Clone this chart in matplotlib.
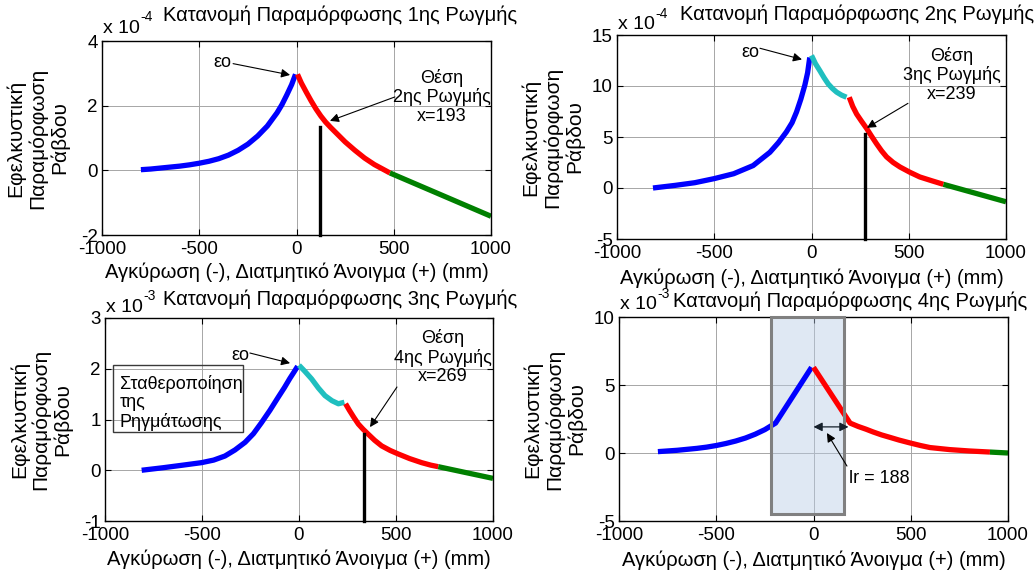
import matplotlib.pyplot as plt
from matplotlib.patches import Rectangle

plt.rcParams['font.family'] = ['Liberation Sans', 'DejaVu Sans']
plt.rcParams['font.size'] = 14
plt.rcParams['axes.unicode_minus'] = False

# values in units of the axis multiplier (x10^-4, x10^-4, x10^-3, x10^-3)
# panel 1
p1_blue_x = [-800, -750, -700, -650, -600, -550, -500, -450, -400, -350, -300,
             -250, -200, -150, -100, -75, -50, -25, -5]
p1_blue_y = [0.02, 0.04, 0.07, 0.1, 0.13, 0.17, 0.22, 0.28, 0.36, 0.47, 0.62,
             0.81, 1.06, 1.37, 1.78, 2.03, 2.33, 2.65, 2.97]
p1_red_x = [5, 25, 50, 75, 100, 125, 150, 175, 200, 250, 300, 350, 400, 440, 480]
p1_red_y = [2.97, 2.7, 2.42, 2.15, 1.9, 1.68, 1.49, 1.33, 1.18, 0.88, 0.62, 0.38,
            0.18, 0.05, -0.08]
p1_green_x = [480, 1000]
p1_green_y = [-0.08, -1.42]
p1_crack_x = 121
p1_crack_top = 1.35

# panel 2
p2_blue_x = [-815, -700, -600, -500, -400, -300, -214, -170, -129, -100, -77,
             -55, -34, -20, -9]
p2_blue_y = [0.0, 0.26, 0.52, 0.92, 1.4, 2.2, 3.5, 4.45, 5.5, 6.4, 7.45,
             8.7, 10.1, 11.3, 12.8]
p2_cyan_x = [0, 20, 43, 65, 86, 108, 129, 155, 180]
p2_cyan_y = [13.0, 12.2, 11.5, 10.8, 10.2, 9.75, 9.4, 9.1, 8.9]
p2_red_x = [194, 212, 232, 257, 283, 308, 334, 360, 386, 420, 455, 505, 557,
            620, 678]
p2_red_y = [8.9, 8.0, 7.25, 6.55, 5.85, 5.1, 4.35, 3.65, 3.05, 2.5, 2.06, 1.55, 1.08,
            0.7, 0.36]
p2_green_x = [678, 1000]
p2_green_y = [0.36, -1.35]
p2_crack_x = 274
p2_crack_top = 5.3

# panel 3
p3_blue_x = [-811, -700, -600, -502, -440, -382, -330, -278, -235, -193, -150,
             -107, -75, -47, -25, -7]
p3_blue_y = [0.0, 0.05, 0.1, 0.15, 0.2, 0.28, 0.4, 0.55, 0.72, 0.94, 1.18,
             1.44, 1.63, 1.81, 1.94, 2.05]
p3_cyan_x = [0, 30, 65, 100, 134, 170, 203, 234]
p3_cyan_y = [2.07, 1.95, 1.8, 1.62, 1.47, 1.37, 1.31, 1.34]
p3_red_x = [240, 260, 283, 306, 330, 357, 390, 426, 470, 512, 570, 632, 680, 718]
p3_red_y = [1.31, 1.18, 1.04, 0.91, 0.81, 0.71, 0.59, 0.48, 0.39, 0.32, 0.23,
            0.15, 0.1, 0.07]
p3_green_x = [718, 1000]
p3_green_y = [0.07, -0.16]
p3_crack_x = 337
p3_crack_top = 0.71

# panel 4
p4_blue_x = [-800, -750, -700, -650, -600, -550, -500, -450, -400, -350, -300,
             -250, -195, -10]
p4_blue_y = [0.1, 0.15, 0.2, 0.27, 0.34, 0.43, 0.55, 0.7, 0.88, 1.1, 1.38,
             1.72, 2.2, 6.3]
p4_red_x = [0, 188, 230, 270, 306, 350, 393, 440, 496, 550, 599, 700, 800, 907]
p4_red_y = [6.3, 2.2, 1.95, 1.75, 1.55, 1.33, 1.15, 0.95, 0.74, 0.55, 0.4, 0.25,
            0.15, 0.07]
p4_green_x = [907, 1000]
p4_green_y = [0.07, 0.0]
p4_zone = (-218, 157)
lr_value = 188

titles = ['Κατανομή Παραμόρφωσης 1ης Ρωγμής', 'Κατανομή Παραμόρφωσης 2ης Ρωγμής',
          'Κατανομή Παραμόρφωσης 3ης Ρωγμής', 'Κατανομή Παραμόρφωσης 4ης Ρωγμής']
exponents = ['-4', '-4', '-3', '-3']
ylims = [(-2, 4), (-5, 15), (-1, 3), (-5, 10)]
yticks = [[-2, 0, 2, 4], [-5, 0, 5, 10, 15], [-1, 0, 1, 2, 3], [-5, 0, 5, 10]]
xlabel = 'Αγκύρωση (-), Διατμητικό Άνοιγμα (+) (mm)'
ylabel = 'Εφελκυστική\nΠαραμόρφωση\nΡάβδου'

BLUE, RED, CYAN, GREEN = '#0000ff', '#ff0000', '#1fbfbf', '#008000'
LW = 3.8
ANN = 13

fig = plt.figure(figsize=(10.35, 5.71), dpi=100)
positions = [
    [102 / 1035, 336 / 571, 389 / 1035, 194 / 571],
    [617 / 1035, 332 / 571, 389 / 1035, 204 / 571],
    [105 / 1035, 50 / 571, 388 / 1035, 203 / 571],
    [619 / 1035, 50 / 571, 389 / 1035, 204 / 571],
]
axes = [fig.add_axes(p) for p in positions]
title_x = [0.612, 0.617, 0.606, 0.594]
title_y = [1.134, 1.10, 1.09, 1.075]
off_y = [1.067, 1.05, 1.054, 1.06]

for i, ax in enumerate(axes):
    ax.set_xlim(-1000, 1000)
    ax.set_ylim(*ylims[i])
    ax.set_xticks([-1000, -500, 0, 500, 1000])
    ax.set_yticks(yticks[i])
    ax.tick_params(direction='in', top=True, right=True, length=4, width=0.8,
                   labelsize=13.5, pad=3)
    ax.tick_params(axis='x', pad=4)
    ax.grid(True, color='#a6a6a6', lw=0.7)
    ax.set_axisbelow(True)
    for s in ax.spines.values():
        s.set_linewidth(1.0)
    ax.set_xlabel(xlabel, fontsize=14.5)
    ax.xaxis.set_label_coords(0.5, -0.19)
    ax.xaxis.label.set_verticalalignment('center')
    ax.set_ylabel(ylabel, fontsize=15, linespacing=1.15)
    ax.yaxis.set_label_coords(-0.165, 0.5)
    ax.yaxis.label.set_verticalalignment('center')
    ax.text(title_x[i], title_y[i], titles[i], transform=ax.transAxes, ha='center',
            va='center', fontsize=14.5)
    t = ax.text(0.003, off_y[i], 'x 10', transform=ax.transAxes,
                ha='left', va='center', fontsize=14)
    ax.annotate(exponents[i], xy=(1.0, 0.75), xycoords=t, ha='left', va='bottom',
                fontsize=10)

arrow = dict(arrowstyle='-|>', color='k', lw=0.8, mutation_scale=13, shrinkA=0, shrinkB=0)

# panel 1
ax = axes[0]
ax.plot(p1_blue_x, p1_blue_y, color=BLUE, lw=LW, solid_capstyle='butt')
ax.plot(p1_red_x, p1_red_y, color=RED, lw=LW, solid_capstyle='butt')
ax.plot(p1_green_x, p1_green_y, color=GREEN, lw=LW, solid_capstyle='butt')
ax.plot([p1_crack_x, p1_crack_x], [-2, p1_crack_top], color='k', lw=2.4, clip_on=False)
ax.text(-383, 3.35, 'εο', ha='center', va='center', fontsize=ANN)
ax.annotate('', xy=(-33, 2.95), xytext=(-326, 3.3), arrowprops=arrow)
ax.text(748, 2.27, 'Θέση\n2ης Ρωγμής\nx=193', ha='center', va='center',
        linespacing=1.12, fontsize=ANN)
ax.annotate('', xy=(172, 1.53), xytext=(506, 2.27), arrowprops=arrow)

# panel 2
ax = axes[1]
ax.plot(p2_blue_x, p2_blue_y, color=BLUE, lw=LW, solid_capstyle='butt')
ax.plot(p2_cyan_x, p2_cyan_y, color=CYAN, lw=LW, solid_capstyle='butt')
ax.plot(p2_red_x, p2_red_y, color=RED, lw=LW, solid_capstyle='butt')
ax.plot(p2_green_x, p2_green_y, color=GREEN, lw=LW, solid_capstyle='butt')
ax.plot([p2_crack_x, p2_crack_x], [-5, p2_crack_top], color='k', lw=2.4, clip_on=False)
ax.text(-316, 13.3, 'εο', ha='center', va='center', fontsize=ANN)
ax.annotate('', xy=(-49, 12.6), xytext=(-265, 13.7), arrowprops=arrow)
ax.text(722, 11.1, 'Θέση\n3ης Ρωγμής\nx=239', ha='center', va='center',
        linespacing=1.12, fontsize=ANN)
ax.annotate('', xy=(285, 5.9), xytext=(496, 8.3), arrowprops=arrow)

# panel 3
ax = axes[2]
ax.plot(p3_blue_x, p3_blue_y, color=BLUE, lw=LW, solid_capstyle='butt')
ax.plot(p3_cyan_x, p3_cyan_y, color=CYAN, lw=LW, solid_capstyle='butt')
ax.plot(p3_red_x, p3_red_y, color=RED, lw=LW, solid_capstyle='butt')
ax.plot(p3_green_x, p3_green_y, color=GREEN, lw=LW, solid_capstyle='butt')
ax.plot([p3_crack_x, p3_crack_x], [-1, p3_crack_top], color='k', lw=2.4, clip_on=False)
ax.text(-304, 2.27, 'εο', ha='center', va='center', fontsize=ANN)
ax.annotate('', xy=(-46, 2.11), xytext=(-253, 2.31), arrowprops=arrow)
ax.text(742, 2.23, 'Θέση\n4ης Ρωγμής\nx=269', ha='center', va='center',
        linespacing=1.12, fontsize=ANN)
ax.annotate('', xy=(366, 0.85), xytext=(505, 1.64), arrowprops=arrow)
ax.add_patch(Rectangle((-959, 0.75), 670, 1.32, fill=False, edgecolor='#3a3a3a', lw=1.0, zorder=3))
ax.text(-923, 1.33, 'Σταθεροποίηση\nτης\nΡηγμάτωσης', ha='left', va='center',
        linespacing=1.12, fontsize=ANN)

# panel 4
ax = axes[3]
ax.add_patch(Rectangle((p4_zone[0], -4.49), p4_zone[1] - p4_zone[0], 14.49,
                       facecolor=(0.72, 0.80, 0.90, 0.45), edgecolor='none', zorder=1.5,
                       clip_on=False))
ax.plot(p4_blue_x, p4_blue_y, color=BLUE, lw=LW, solid_capstyle='butt', zorder=2)
ax.plot(p4_red_x, p4_red_y, color=RED, lw=LW, solid_capstyle='butt', zorder=2)
ax.plot(p4_green_x, p4_green_y, color=GREEN, lw=LW, solid_capstyle='butt', zorder=2)
ax.add_patch(Rectangle((p4_zone[0], -4.49), p4_zone[1] - p4_zone[0], 14.49,
                       facecolor='none', edgecolor='#808080', lw=2.2, zorder=3,
                       clip_on=False))
ax.annotate('', xy=(0, 1.92), xytext=(lr_value - 8, 1.92),
            arrowprops=dict(arrowstyle='<|-|>', color='#15202b', lw=0.9,
                            mutation_scale=13, shrinkA=0, shrinkB=0), zorder=4)
ax.annotate('', xy=(69, 1.47), xytext=(172, -0.96), arrowprops=arrow, zorder=4)
ax.text(183, -1.84, 'lr = ' + str(lr_value), ha='left', va='center', fontsize=ANN)

fig.savefig('out.png', dpi=100)
